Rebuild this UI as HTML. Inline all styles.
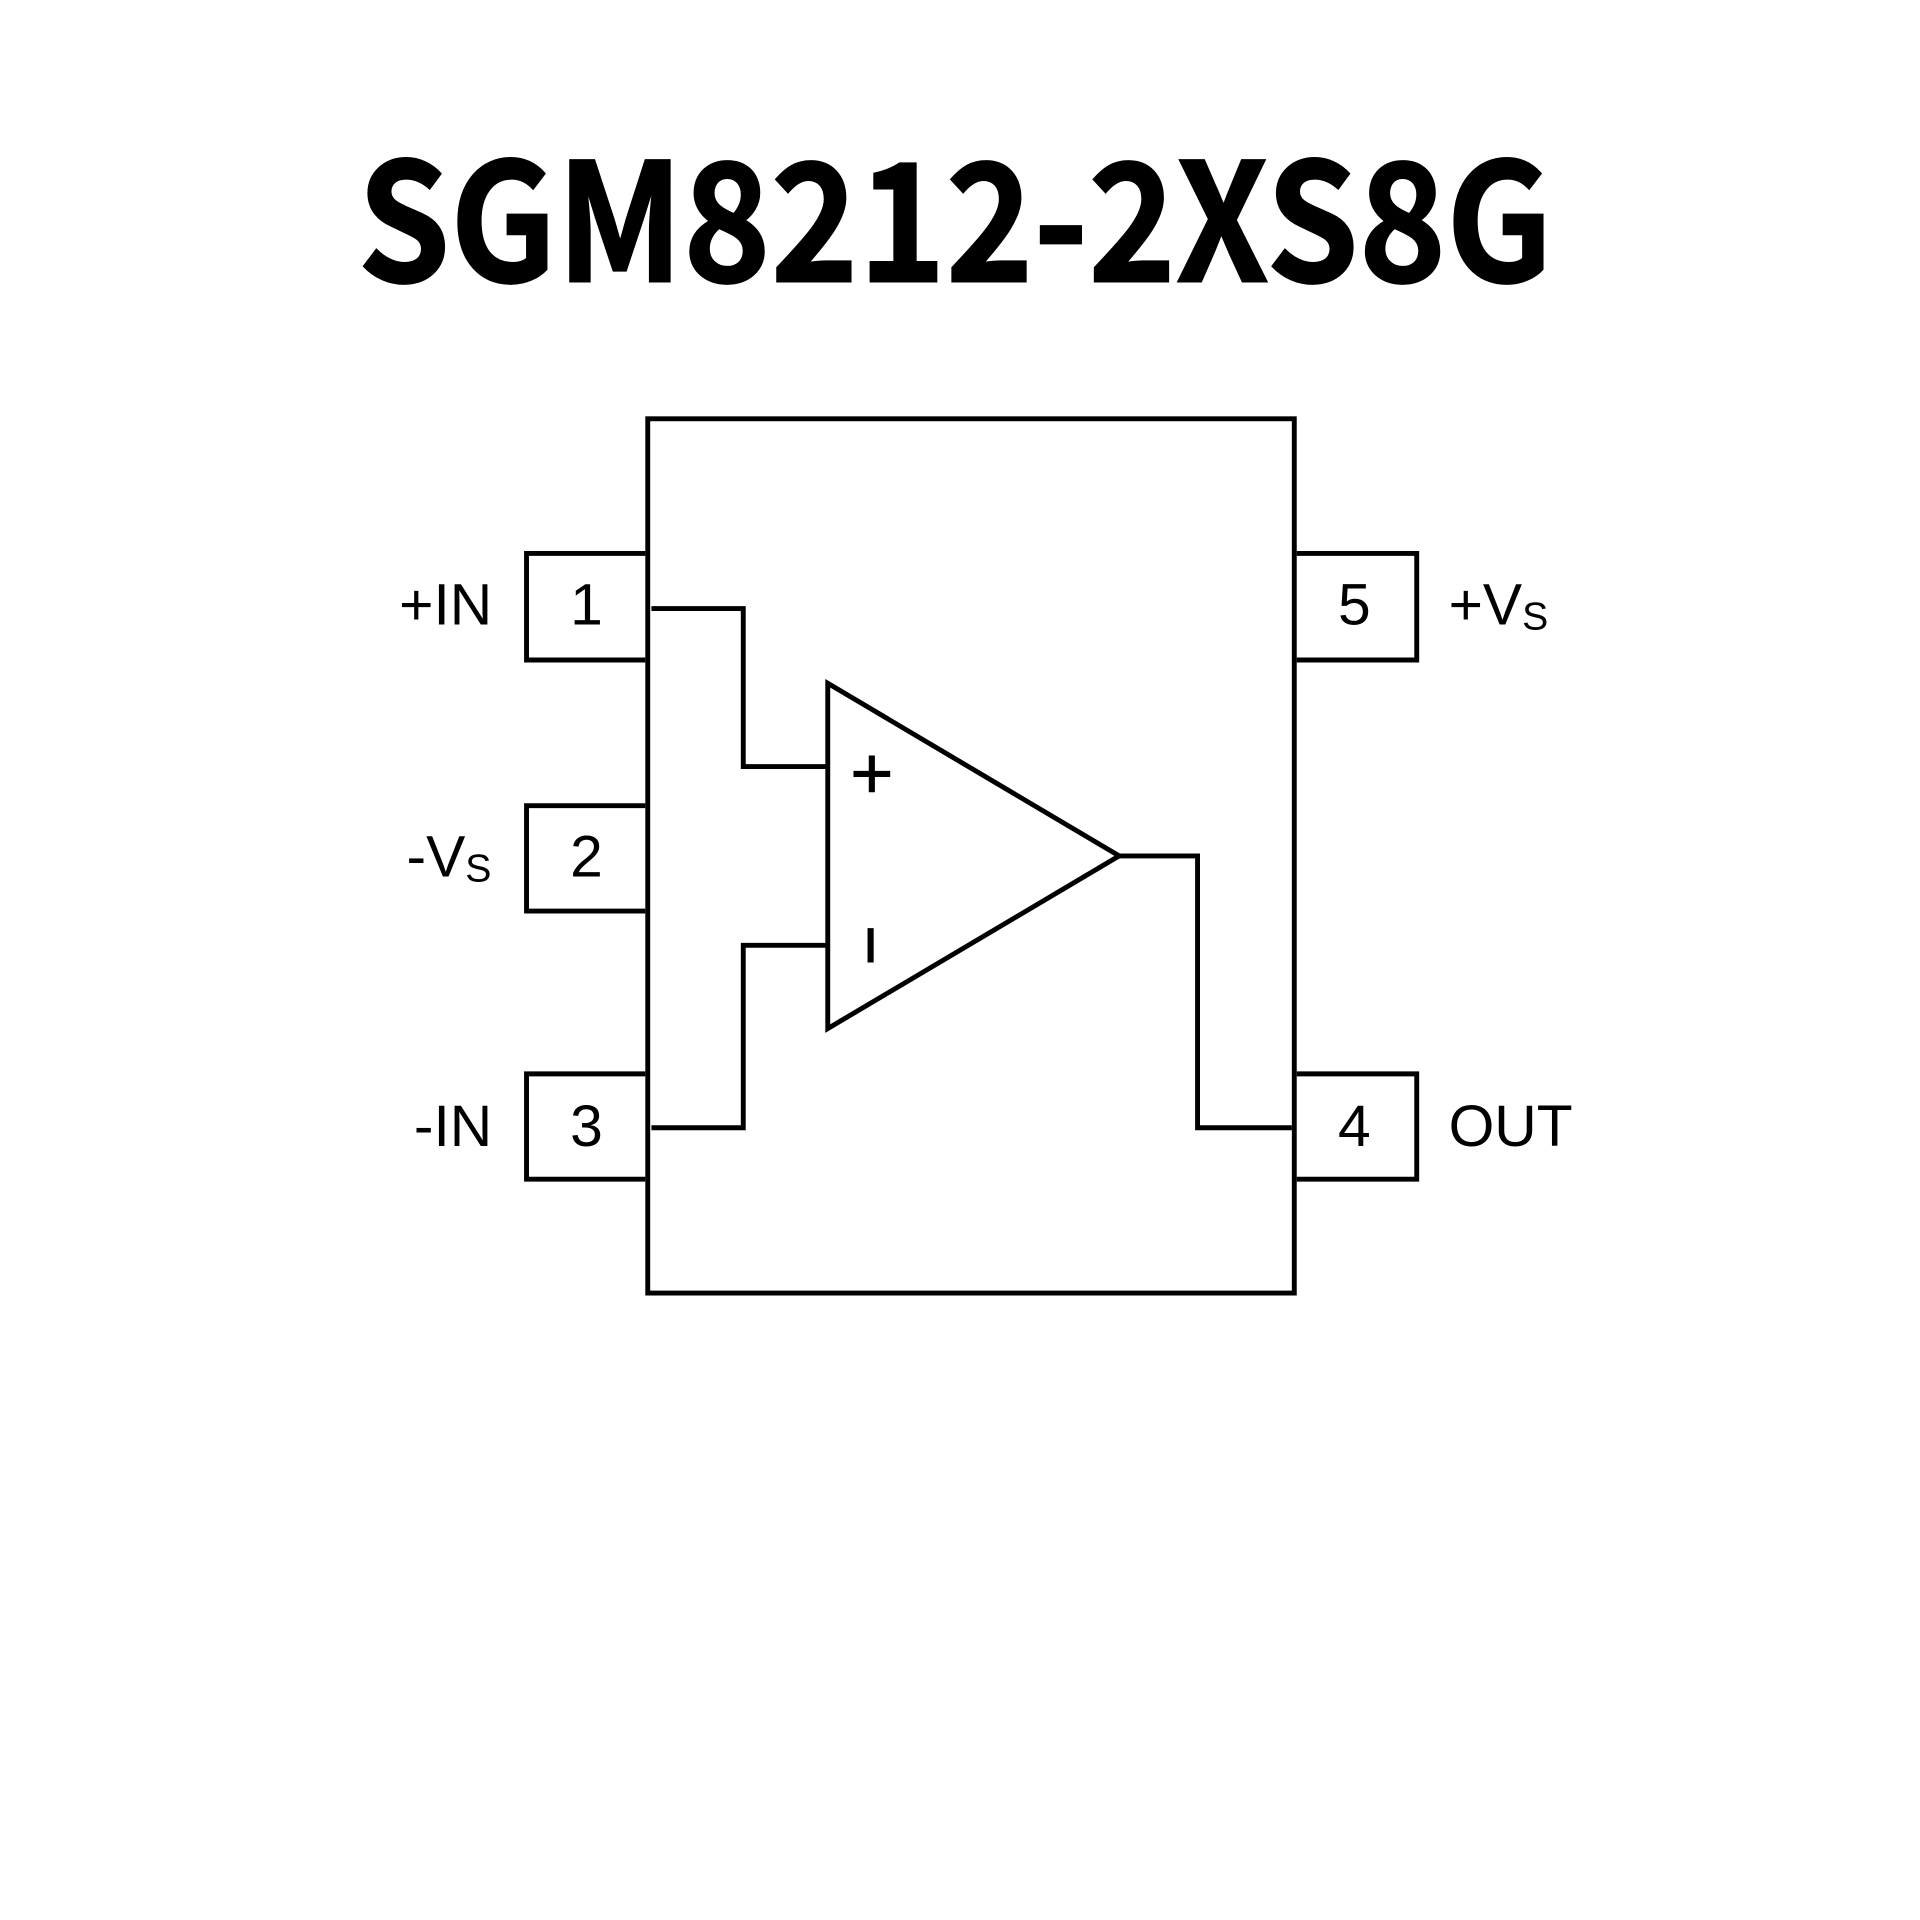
<!DOCTYPE html>
<html><head><meta charset="utf-8"><style>html,body{margin:0;padding:0;background:#fff}svg{display:block}</style></head>
<body>
<svg width="1920" height="1920" viewBox="0 0 1568 1568" xmlns="http://www.w3.org/2000/svg">
<rect width="1568" height="1568" fill="#fff"/>
<text x="780" y="230" text-anchor="middle" font-family="'Noto Sans CJK SC','DejaVu Sans',sans-serif" font-weight="700" font-size="134" textLength="976" lengthAdjust="spacingAndGlyphs" stroke="#000" stroke-width="1.5">SGM8212-2XS8G</text>
<g fill="none" stroke="#000" stroke-width="4" stroke-linejoin="miter">
<rect x="529" y="342" width="528" height="714"/>
<polyline points="527,452 430,452 430,539 527,539"/>
<polyline points="527,658 430,658 430,744 527,744"/>
<polyline points="527,877 430,877 430,963 527,963"/>
<polyline points="1059,452 1157,452 1157,539 1059,539"/>
<polyline points="1059,877 1157,877 1157,963 1059,963"/>
<polyline points="532,497 607,497 607,626 676,626"/>
<polyline points="532,921 607,921 607,772 676,772"/>
<polygon points="676,558 914,699 676,840"/>
<polyline points="914,699 978,699 978,921 1055,921"/>
</g>
<g stroke="#000" stroke-width="5">
<line x1="697" y1="632" x2="727" y2="632"/>
<line x1="712" y1="617" x2="712" y2="647"/>
<line x1="711" y1="758" x2="711" y2="786"/>
</g>
<g font-family="'Liberation Sans',Arial,sans-serif" font-size="48" fill="#000">
<text x="402" y="510" text-anchor="end">+IN</text>
<text x="479" y="510" text-anchor="middle">1</text>
<text x="332" y="716">-V<tspan font-size="32" dy="4">S</tspan></text>
<text x="479" y="716" text-anchor="middle">2</text>
<text x="402" y="936" text-anchor="end">-IN</text>
<text x="479" y="936" text-anchor="middle">3</text>
<text x="1106" y="510" text-anchor="middle">5</text>
<text x="1183" y="510">+V<tspan font-size="32" dy="4">S</tspan></text>
<text x="1106" y="936" text-anchor="middle">4</text>
<text x="1183" y="936">OUT</text>
</g>
</svg>
</body></html>
